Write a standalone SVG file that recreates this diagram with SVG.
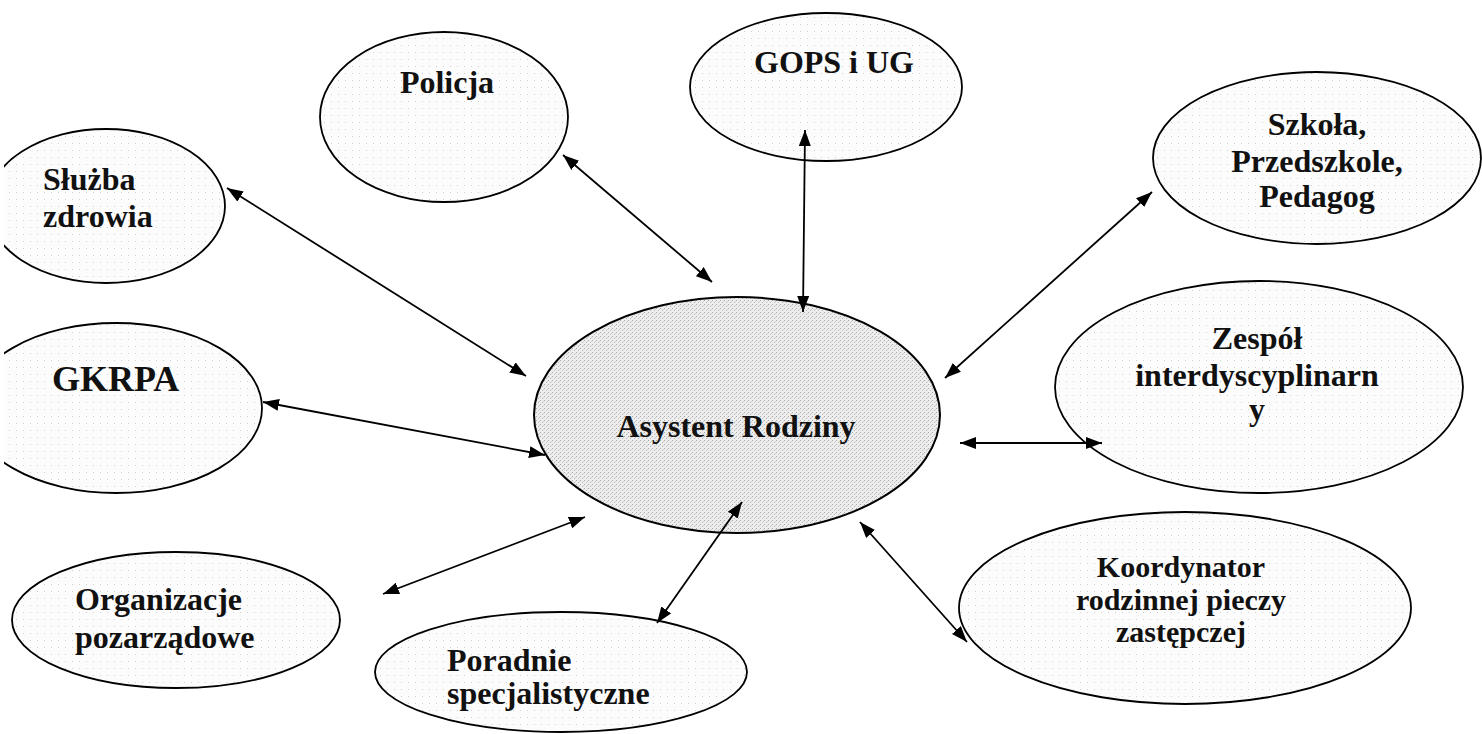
<svg xmlns="http://www.w3.org/2000/svg" width="1482" height="734" viewBox="0 0 1482 734">
<defs>
<style>
.node{fill:url(#light);stroke:#000;stroke-width:1.8}
.main{fill:url(#dense);stroke:#000;stroke-width:2}
.lbl{font-family:"Liberation Serif","Times New Roman",serif;font-weight:bold;font-size:32px;fill:#111}
.mid{text-anchor:middle}
.con line{stroke:#000;stroke-width:1.8;marker-start:url(#ah);marker-end:url(#ah)}
</style>
<pattern id="light" width="7" height="7" patternUnits="userSpaceOnUse">
<rect width="7" height="7" fill="#fcfcfc"/>
<rect x="2" y="3" width="1" height="1" fill="#d0d0d0"/>
</pattern>
<pattern id="dense" width="4" height="4" patternUnits="userSpaceOnUse">
<rect width="4" height="4" fill="#eeeeee"/>
<rect x="0" y="0" width="1" height="1" fill="#a8a8a8"/>
<rect x="2" y="2" width="1" height="1" fill="#b8b8b8"/>
<rect x="3" y="1" width="1" height="1" fill="#d0d0d0"/>
</pattern>
<marker id="ah" viewBox="0 0 16 12" refX="16" refY="6" markerWidth="16" markerHeight="12" markerUnits="userSpaceOnUse" orient="auto-start-reverse">
<path d="M0,0 L16,6 L0,12 z" fill="#000"/>
</marker>
<clipPath id="edge"><rect x="4" y="0" width="1478" height="734"/></clipPath>
</defs>
<rect width="1482" height="734" fill="#fff"/>

<g id="sluzba" clip-path="url(#edge)">
<ellipse class="node" cx="106" cy="206" rx="119" ry="77"/>
<text class="lbl" x="43" y="190">Służba</text>
<text class="lbl" x="43" y="227">zdrowia</text>
</g>
<g id="policja">
<ellipse class="node" cx="444" cy="117" rx="124" ry="85"/>
<text class="lbl mid" x="447" y="93">Policja</text>
</g>
<g id="gops">
<ellipse class="node" cx="826" cy="87" rx="136" ry="74"/>
<text class="lbl mid" x="834" y="73">GOPS i UG</text>
</g>
<g id="szkola">
<ellipse class="node" cx="1317" cy="158" rx="164" ry="86"/>
<text class="lbl mid" x="1317" y="135">Szkoła,</text>
<text class="lbl mid" x="1317" y="172">Przedszkole,</text>
<text class="lbl mid" x="1317" y="207">Pedagog</text>
</g>
<g id="gkrpa" clip-path="url(#edge)">
<ellipse class="node" cx="116" cy="408" rx="146" ry="85"/>
<text class="lbl" x="52" y="391" style="font-size:36px">GKRPA</text>
</g>
<g id="asystent">
<ellipse class="main" cx="737" cy="415" rx="203" ry="118"/>
<text class="lbl mid" x="736" y="437">Asystent Rodziny</text>
</g>
<g id="zespol">
<ellipse class="node" cx="1259" cy="387" rx="204" ry="106"/>
<text class="lbl mid" x="1257" y="349">Zespół</text>
<text class="lbl mid" x="1257" y="386">interdyscyplinarn</text>
<text class="lbl mid" x="1257" y="420">y</text>
</g>
<g id="organizacje">
<ellipse class="node" cx="176" cy="620" rx="164" ry="68"/>
<text class="lbl" x="75" y="610">Organizacje</text>
<text class="lbl" x="75" y="648">pozarządowe</text>
</g>
<g id="poradnie">
<ellipse class="node" cx="561" cy="672" rx="186" ry="60"/>
<text class="lbl" x="447" y="671">Poradnie</text>
<text class="lbl" x="447" y="704">specjalistyczne</text>
</g>
<g id="koordynator">
<ellipse class="node" cx="1185" cy="608" rx="226" ry="96"/>
<text class="lbl mid" x="1181" y="577" style="font-size:30px">Koordynator</text>
<text class="lbl mid" x="1181" y="610" style="font-size:30px">rodzinnej pieczy</text>
<text class="lbl mid" x="1181" y="642" style="font-size:30px">zastępczej</text>
</g>

<g id="connectors" class="con">
<line x1="227" y1="188" x2="526" y2="376"/>
<line x1="563" y1="155" x2="712" y2="282"/>
<line x1="805" y1="130" x2="803" y2="312"/>
<line x1="1152" y1="192" x2="945" y2="378"/>
<line x1="263" y1="402" x2="545" y2="455"/>
<line x1="960" y1="443" x2="1102" y2="443"/>
<line x1="383" y1="594" x2="585" y2="517"/>
<line x1="657" y1="623" x2="742" y2="502"/>
<line x1="860" y1="522" x2="967" y2="642"/>
</g>
</svg>
